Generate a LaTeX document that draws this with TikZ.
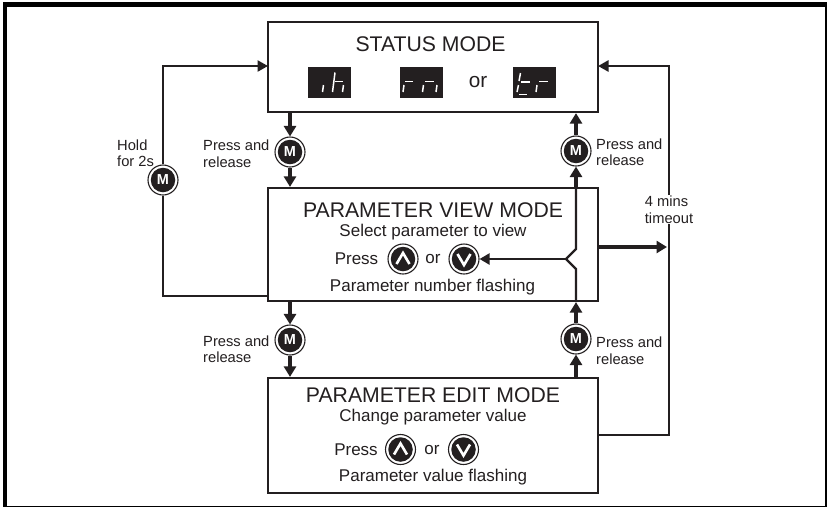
\documentclass[tikz,border=0pt]{standalone}
\usepackage{fontspec}
\setmainfont{Liberation Sans}
\usetikzlibrary{arrows.meta,calc}
\definecolor{ink}{HTML}{231F20}
\newcommand{\fs}[1]{\fontsize{#1}{#1}\selectfont}
\tikzset{
  modebox/.style={draw=ink,line width=2.2pt,fill=white,minimum width=330pt,inner sep=0pt},
  lbl/.style={text=ink,font=\fs{14.7},align=left,inner sep=0pt,anchor=west},
  txt/.style={text=ink,inner sep=0pt},
  title/.style={txt,font=\fs{21.2}},
  sub/.style={txt,font=\fs{17}},
  ring/.style={circle,draw=ink,line width=1.1pt,fill=white,minimum size=30pt,inner sep=0pt},
  disc/.style={circle,fill=ink,minimum size=24.5pt,inner sep=0pt,text=white,font=\bfseries\fs{14.5}},
  thick arrow/.style={draw=ink,line width=3.2pt,-{Triangle[length=10.5pt,width=12pt]}},
  thin line/.style={draw=ink,line width=2.2pt},
  thin arrow/.style={draw=ink,line width=2.2pt,-{Triangle[length=10pt,width=11pt]}},
  loop arrow/.style={draw=ink,line width=2.5pt,-{Triangle[length=10.5pt,width=11pt]}},
  seg/.style={draw=white,line width=1.5pt},
  display/.style={fill=ink,minimum width=43pt,minimum height=31pt,inner sep=0pt},
}
\newcommand{\mbtn}[2]{\node[ring] (#1) at (#2) {}; \node[disc] at (#1) {M};}
\newcommand{\ubtn}[2]{\node[ring] (#1) at (#2) {}; \node[disc] at (#1) {};
  \draw[white,line width=2.6pt] ($(#1)+(-6.5,5)$) -- ($(#1)+(0,-6)$) -- ($(#1)+(6.5,5)$);}
\newcommand{\dbtn}[2]{\node[ring] (#1) at (#2) {}; \node[disc] at (#1) {};
  \draw[white,line width=2.6pt] ($(#1)+(-6.5,-5)$) -- ($(#1)+(0,6)$) -- ($(#1)+(6.5,-5)$);}
\begin{document}
\begin{tikzpicture}[x=1pt,y=-1pt]
\useasboundingbox[fill=white] (0,0) rectangle (827,507);
% page frame
\fill[black] (3,2) rectangle (827,7);
\fill[black] (3,2) rectangle (7,507);
\fill[black] (825,2) rectangle (827,507);
\fill[black] (3,506) rectangle (827,507);
% boxes
\node[modebox,minimum height=90pt] (status) at (433,67) {};
\node[modebox,minimum height=113pt] (view) at (433,244.5) {};
\node[modebox,minimum height=115pt] (edit) at (433,435.5) {};
% status contents
\node[title] (t1) at (430.5,44) {STATUS MODE};
\node[display] (d1) at (329,82.5) {};
\node[display] (d2) at (421.5,82) {};
\node[display] (d3) at (534.5,82) {};
\node[txt,font=\fs{20.7}] (or0) at (478,82) {or};
% display segments: ih
\draw[seg] (323.5,85) -- (322.5,92);
\draw[seg] (335,72.5) -- (332.5,92);
\draw[seg] (335,81.5) -- (343,81.5);
\draw[seg] (343.5,85) -- (342.5,92);
% rn
\draw[seg] (404,85) -- (403,92);
\draw[seg] (405,81.5) -- (413,81.5);
\draw[seg] (423.5,85) -- (422.5,92);
\draw[seg] (425,81.5) -- (434,81.5);
\draw[seg] (437,85) -- (436,92);
% tr
\draw[seg] (520.5,73) -- (519,81);
\draw[seg] (518.5,85) -- (517,92);
\draw[seg] (521,82) -- (529.5,82);
\draw[seg] (519,94.5) -- (526.5,94.5);
\draw[seg] (537,85) -- (536,92);
\draw[seg] (539,81.5) -- (547.5,81.5);
% view contents
\node[title] (t2) at (433,210.5) {PARAMETER VIEW MODE};
\node[sub] (s2) at (433,232) {Select parameter to view};
\node[sub] (p2) at (356.5,259) {Press};
\ubtn{vu}{403,259}
\node[sub] (or2) at (433,259.5) {or};
\dbtn{vd}{464,259}
\node[sub] (f2) at (432.5,287) {Parameter number flashing};
% edit contents
\node[title] (t3) at (433,395) {PARAMETER EDIT MODE};
\node[sub] (s3) at (433,417) {Change parameter value};
\node[sub] (p3) at (356,450) {Press};
\ubtn{eu}{400.5,449.5}
\node[sub] (or3) at (432,450) {or};
\dbtn{ed}{463.5,449.5}
\node[sub] (f3) at (433,477) {Parameter value flashing};
% M buttons
\mbtn{mh}{163,180}
\mbtn{ma}{290,152}
\mbtn{mb}{290,340}
\mbtn{mc}{576,151}
\mbtn{md}{576,339}
% labels
\node[lbl] (lh) at (117,153) {Hold\\[1.8pt]for 2s};
\node[lbl] (la) at (203,153.5) {Press and\\[1.8pt]release};
\node[lbl] (lb) at (203,349) {Press and\\[1.8pt]release};
\node[lbl] (lc) at (596,152) {Press and\\[1.8pt]release};
\node[lbl] (ld) at (596,350.5) {Press and\\[1.8pt]release};
\node[lbl,anchor=center,align=left,fill=white,inner sep=1pt] (lt) at (669,209.5) {4 mins\\[1.8pt]timeout};
% connectors
\draw[thick arrow] (status.south -| ma) -- (ma.north);
\draw[thick arrow] (ma.south) -- (view.north -| ma);
\draw[thick arrow] (view.south -| mb) -- (mb.north);
\draw[thick arrow] (mb.south) -- (edit.north -| mb);
\draw[thick arrow] (mc.north) -- (status.south -| mc);
\coordinate (jt) at (576,249);
\coordinate (jm) at (566,259);
\coordinate (jb) at (576,269);
\draw[thick arrow] (view.north -| mc) -- (mc.south);
\draw[thin line] (view.north -| mc) -- (jt) -- (jm) -- (jb) -- (view.south -| jb);
\draw[thin arrow] (jm) -- (vd.east);
\draw[thick arrow] (md.north) -- (view.south -| md);
\draw[thick arrow] (edit.north -| md) -- (md.south);
% hold loop
\coordinate (hv) at (268,296);
\coordinate (hs) at (268,66);
\draw[thin line] (hv) -| (mh.south);
\draw[loop arrow] (mh.north) |- (hs);
% timeout loop
\coordinate (tv) at (598,247);
\coordinate (te) at (598,435);
\coordinate (ts) at (598,66);
\draw[thin line] (te) -| (lt.south);
\draw[loop arrow] (lt.north) |- (ts);
\coordinate (tj) at (667,247);
\draw[thick arrow] (tv) -- (tj);
\end{tikzpicture}
\end{document}
